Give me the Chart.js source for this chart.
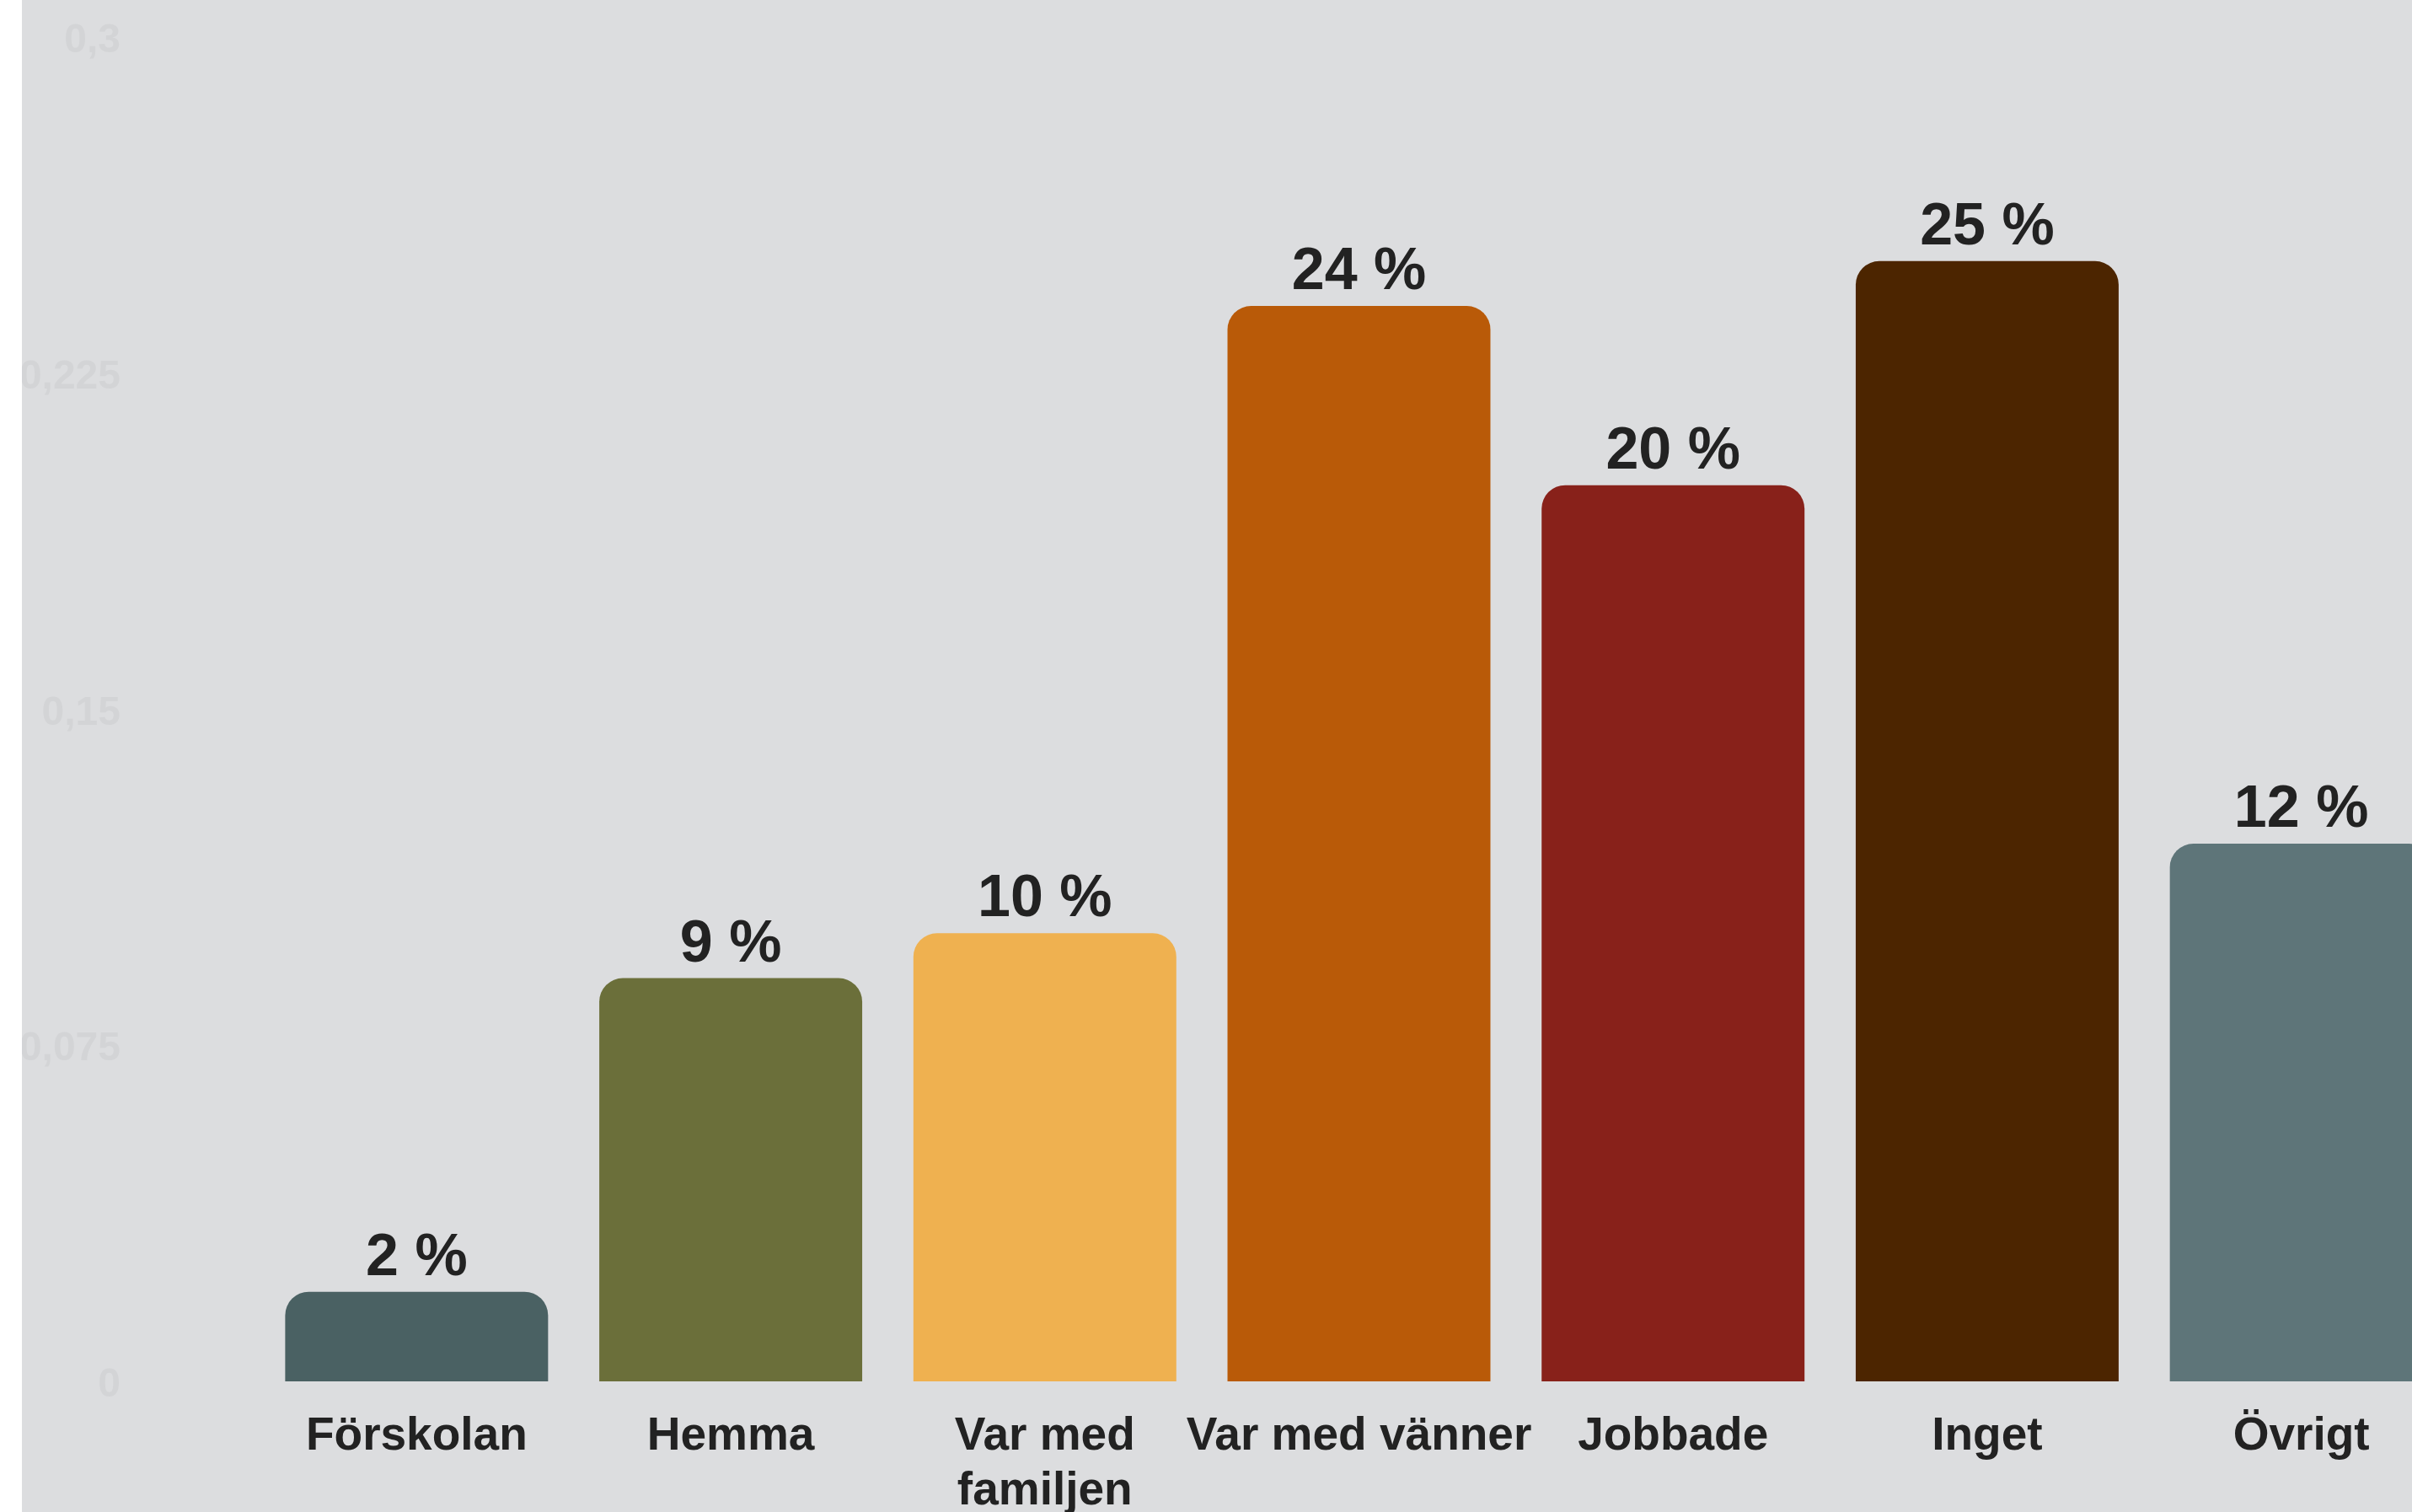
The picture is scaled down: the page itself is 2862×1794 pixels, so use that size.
<!DOCTYPE html>
<html>
<head>
<meta charset="utf-8">
<script src="https://cdn.jsdelivr.net/npm/chart.js@4/dist/chart.umd.min.js"></script>
<style>
  html, body { margin: 0; padding: 0; background: #ffffff; overflow: hidden; width: 2862px; height: 1794px; }
  #wrap { position: absolute; left: 26px; top: 0; width: 2891px; height: 1794px; background: #dcdddf; }
  canvas { display: block; }
</style>
</head>
<body>
<div id="wrap"><canvas id="myChart" width="2891" height="1794"></canvas></div>
<script>
const categories = ['Förskolan', 'Hemma', ['Var med', 'familjen'], 'Var med vänner', 'Jobbade', 'Inget', 'Övrigt'];
const shares = [0.02, 0.09, 0.10, 0.24, 0.20, 0.25, 0.12];
const valueLabels = ['2 %', '9 %', '10 %', '24 %', '20 %', '25 %', '12 %'];
const barColors = ['#4a6163', '#6b6f3a', '#efb150', '#b95a08', '#88211a', '#4c2500', '#5e7579'];
const yTicks = [0, 0.075, 0.15, 0.225, 0.3];

Chart.defaults.font.family = "'Liberation Sans', Arial, Helvetica, sans-serif";

// labels above each bar
const valueLabelPlugin = {
  id: 'valueLabels',
  afterDatasetsDraw(chart) {
    const ctx = chart.ctx;
    const meta = chart.getDatasetMeta(0);
    ctx.save();
    ctx.font = "bold 70px 'Liberation Sans', Arial, sans-serif";
    ctx.fillStyle = '#222222';
    ctx.textAlign = 'center';
    ctx.textBaseline = 'alphabetic';
    meta.data.forEach((bar, i) => {
      ctx.fillText(valueLabels[i], bar.x, bar.y - 20);
    });
    ctx.restore();
  }
};

const ctx = document.getElementById('myChart').getContext('2d');
const myChart = new Chart(ctx, {
  type: 'bar',
  data: {
    labels: categories,
    datasets: [{
      data: shares,
      backgroundColor: barColors,
      borderWidth: 0,
      borderRadius: 28,
      categoryPercentage: 1,
      barPercentage: 0.837,
    }],
  },
  options: {
    responsive: false,
    animation: false,
    devicePixelRatio: 1,
    layout: { padding: { top: 44, left: 0, right: 0, bottom: 0 } },
    plugins: {
      legend: { display: false },
      tooltip: { enabled: false },
    },
    scales: {
      x: {
        grid: { display: false, drawTicks: false },
        border: { display: false },
        ticks: {
          color: '#222222',
          font: { size: 55, weight: 'bold', lineHeight: 1.18 },
          padding: 33,
          maxRotation: 0,
          autoSkip: false,
        },
        afterFit: (axis) => { axis.height = 155; },
      },
      y: {
        min: 0,
        max: 0.3,
        // tick marks hidden, their length only pushes the labels left
        grid: { display: false, drawTicks: true, tickLength: 165 },
        border: { display: false },
        afterBuildTicks: (axis) => { axis.ticks = yTicks.map(v => ({ value: v })); },
        ticks: {
          color: '#d3d4d6',
          font: { size: 48, weight: 'bold' },
          padding: 0,
          labelOffset: 5,
          callback: function (value) {
            return String(value).replace('.', ',');
          },
        },
        afterFit: (axis) => { axis.width = 282; },
      },
    },
  },
  plugins: [valueLabelPlugin],
});
</script>
</body>
</html>
